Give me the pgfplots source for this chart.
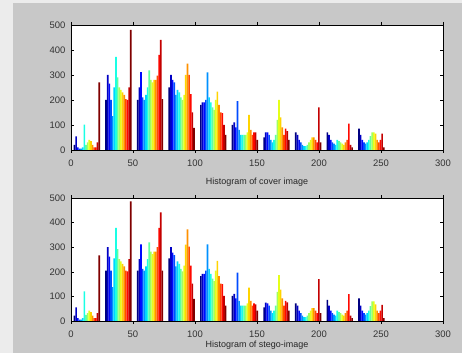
\documentclass[border=0pt]{standalone}
\usepackage{fontspec}
\setmainfont{Liberation Sans}
\usepackage{pgfplots}
\usepackage{pgfplotstable}
\pgfplotsset{compat=1.18}
\definecolor{figbg}{RGB}{200,200,200}
\definecolor{edgebg}{RGB}{236,236,236}
\definecolor{jet0}{rgb}{0,0,0.5}
\definecolor{jet1}{rgb}{0,0,0.767}
\definecolor{jet2}{rgb}{0,0.033,1}
\definecolor{jet3}{rgb}{0,0.3,1}
\definecolor{jet4}{rgb}{0,0.567,1}
\definecolor{jet5}{rgb}{0,0.833,1}
\definecolor{jet6}{rgb}{0.1,1,0.9}
\definecolor{jet7}{rgb}{0.367,1,0.633}
\definecolor{jet8}{rgb}{0.633,1,0.367}
\definecolor{jet9}{rgb}{0.9,1,0.1}
\definecolor{jet10}{rgb}{1,0.833,0}
\definecolor{jet11}{rgb}{1,0.567,0}
\definecolor{jet12}{rgb}{1,0.3,0}
\definecolor{jet13}{rgb}{1,0.033,0}
\definecolor{jet14}{rgb}{0.767,0,0}
\definecolor{jet15}{rgb}{0.5,0,0}

\pgfplotstableread{
c h0 h1 h2 h3 h4 h5 h6 h7 h8 h9 h10 h11 h12 h13 h14 h15
12.75 20 54 10 5 5 10 101 20 30 40 35 20 10 10 30 270
38.25 200 300 265 200 135 250 372 290 250 240 230 220 203 200 250 480
63.75 200 250 311 210 200 220 250 318 280 270 280 280 297 380 440 203
89.25 250 300 280 270 220 240 230 210 200 220 300 345 300 223 150 88
114.75 180 190 190 200 310 210 190 170 160 200 233 180 150 147 100 60
140.25 100 110 90 195 80 60 60 60 60 70 140 80 60 70 70 40
165.75 50 70 70 60 40 30 40 60 120 200 130 90 60 85 75 40
191.25 70 60 40 30 20 15 15 20 30 40 50 50 40 30 170 30
216.75 70 60 40 30 25 20 40 35 30 25 20 30 40 105 20 10
242.25 85 60 40 30 25 30 40 55 70 70 65 40 30 40 65 10
}\coverdata

\pgfplotstableread{
c h0 h1 h2 h3 h4 h5 h6 h7 h8 h9 h10 h11 h12 h13 h14 h15
12.75 22 55 12 6 6 12 120 25 32 42 36 22 12 12 32 267
38.25 205 300 262 205 138 255 379 292 252 242 232 222 205 202 252 486
63.75 205 252 311 212 205 222 252 320 282 272 282 282 300 379 442 205
89.25 255 300 278 268 222 242 232 212 202 225 310 372 302 225 152 90
114.75 182 192 192 205 311 212 192 172 162 205 244 182 152 150 102 62
140.25 102 110 92 197 82 62 62 62 62 72 136 82 62 72 68 42
165.75 55 75 72 62 42 32 42 62 118 186 128 92 62 82 76 42
191.25 72 62 42 32 22 16 16 22 32 42 52 52 42 32 170 32
216.75 86 62 42 32 26 22 42 36 32 26 22 32 42 109 22 12
242.25 92 62 42 32 26 32 42 60 80 80 68 42 32 42 66 12
}\stegodata

\newcommand{\histbars}[1]{%
\addplot[fill=jet0, draw=none, bar width=1.33, bar shift=-9.975] table[x=c,y=h0]{#1};
\addplot[fill=jet1, draw=none, bar width=1.33, bar shift=-8.645] table[x=c,y=h1]{#1};
\addplot[fill=jet2, draw=none, bar width=1.33, bar shift=-7.315] table[x=c,y=h2]{#1};
\addplot[fill=jet3, draw=none, bar width=1.33, bar shift=-5.985] table[x=c,y=h3]{#1};
\addplot[fill=jet4, draw=none, bar width=1.33, bar shift=-4.655] table[x=c,y=h4]{#1};
\addplot[fill=jet5, draw=none, bar width=1.33, bar shift=-3.325] table[x=c,y=h5]{#1};
\addplot[fill=jet6, draw=none, bar width=1.33, bar shift=-1.995] table[x=c,y=h6]{#1};
\addplot[fill=jet7, draw=none, bar width=1.33, bar shift=-0.665] table[x=c,y=h7]{#1};
\addplot[fill=jet8, draw=none, bar width=1.33, bar shift=0.665] table[x=c,y=h8]{#1};
\addplot[fill=jet9, draw=none, bar width=1.33, bar shift=1.995] table[x=c,y=h9]{#1};
\addplot[fill=jet10, draw=none, bar width=1.33, bar shift=3.325] table[x=c,y=h10]{#1};
\addplot[fill=jet11, draw=none, bar width=1.33, bar shift=4.655] table[x=c,y=h11]{#1};
\addplot[fill=jet12, draw=none, bar width=1.33, bar shift=5.985] table[x=c,y=h12]{#1};
\addplot[fill=jet13, draw=none, bar width=1.33, bar shift=7.315] table[x=c,y=h13]{#1};
\addplot[fill=jet14, draw=none, bar width=1.33, bar shift=8.645] table[x=c,y=h14]{#1};
\addplot[fill=jet15, draw=none, bar width=1.33, bar shift=9.975] table[x=c,y=h15]{#1};
}

\pgfplotsset{histax/.style={
  scale only axis, width=372bp, anchor=south west,
  xmin=0, xmax=300, ymin=0, ymax=500,
  xtick={0,50,...,300}, ytick={0,100,...,500},
  ybar,
  axis background/.style={fill=white},
  major tick length=3bp,
  tick style={black, line width=0.4pt},
  axis line style={black, line width=0.5pt},
  ticklabel style={font=\fontsize{9.5}{10}\selectfont, text=black!80},
  /pgf/number format/assume math mode=true,
  xticklabel style={yshift=-3bp},
  yticklabel style={xshift=-2bp},
  xlabel style={font=\fontsize{9}{10}\selectfont, text=black!85, at={(axis description cs:0.5,0)}, anchor=center},
}}

\begin{document}
\begin{tikzpicture}
\fill[edgebg] (0,0) rectangle (462bp,353bp);
\fill[figbg] (13bp,0) rectangle (462bp,350bp);
\begin{axis}[histax, at={(71bp,203bp)}, height=125bp,
  xlabel={Histogram of cover image}, xlabel style={yshift=-32bp}]
\histbars{\coverdata}
\end{axis}
\begin{axis}[histax, at={(71bp,32bp)}, height=123bp,
  xlabel={Histogram of stego-image}, xlabel style={yshift=-24bp}]
\histbars{\stegodata}
\end{axis}
\end{tikzpicture}
\end{document}
